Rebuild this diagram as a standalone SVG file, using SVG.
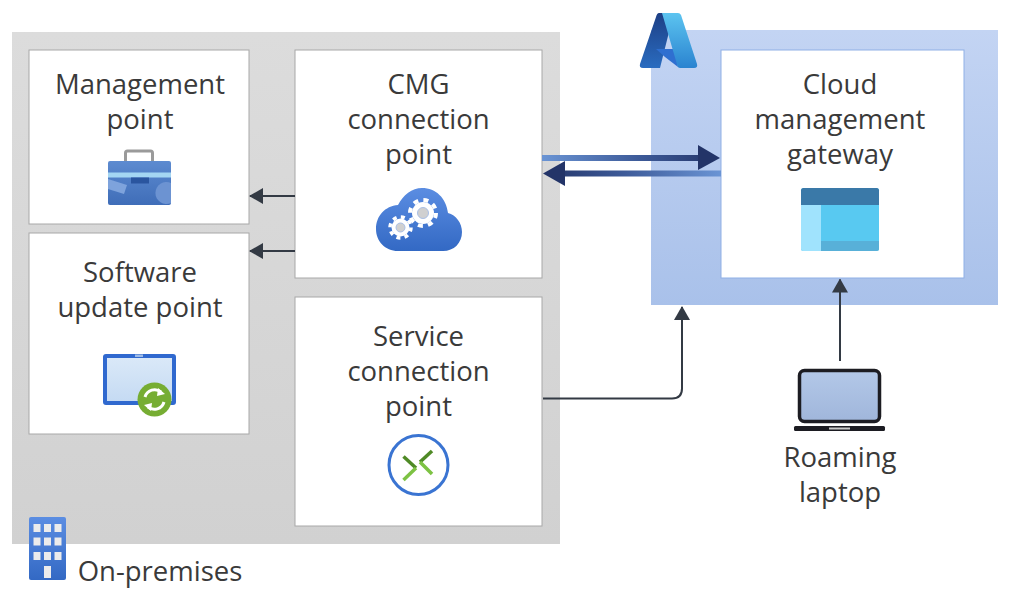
<svg xmlns="http://www.w3.org/2000/svg" width="1024" height="598" viewBox="0 0 1024 598">
<style>
.t{font-family:"Open Sans","Noto Sans","Liberation Sans",sans-serif;font-size:27.5px;fill:#3a3a3a;text-anchor:middle}
.box{fill:#fff;stroke:#a8a8a8;stroke-width:1}
.conn{fill:none;stroke:#333a44;stroke-width:2}
.gear{fill:#fff}
</style>
<defs>
<linearGradient id="gray" x1="0" y1="0" x2="0" y2="1"><stop offset="0" stop-color="#dcdcdc"/><stop offset="1" stop-color="#d1d1d1"/></linearGradient>
<linearGradient id="azbg" x1="0" y1="0" x2="0" y2="1"><stop offset="0" stop-color="#c3d4f3"/><stop offset="1" stop-color="#a9c1ea"/></linearGradient>
<linearGradient id="a1" gradientUnits="userSpaceOnUse" x1="542" y1="0" x2="720" y2="0"><stop offset="0" stop-color="#6a94d4"/><stop offset=".55" stop-color="#3d5a98"/><stop offset="1" stop-color="#233468"/></linearGradient>
<linearGradient id="a2" gradientUnits="userSpaceOnUse" x1="720" y1="0" x2="543" y2="0"><stop offset="0" stop-color="#6a94d4"/><stop offset=".55" stop-color="#3d5a98"/><stop offset="1" stop-color="#233468"/></linearGradient>
<linearGradient id="blue" x1="0" y1="0" x2="0" y2="1"><stop offset="0" stop-color="#5b8de2"/><stop offset="1" stop-color="#3369c4"/></linearGradient>
<linearGradient id="case" x1="0" y1="0" x2="0" y2="1"><stop offset="0" stop-color="#5d8bd0"/><stop offset="1" stop-color="#3f6db8"/></linearGradient>
<linearGradient id="screen" x1="0" y1="0" x2="0" y2="1"><stop offset="0" stop-color="#dbe9f8"/><stop offset="1" stop-color="#c4daf3"/></linearGradient>
<linearGradient id="lapscr" x1="0" y1="0" x2="0" y2="1"><stop offset="0" stop-color="#b3c8e8"/><stop offset="1" stop-color="#a0b6db"/></linearGradient>
<linearGradient id="azd" x1="0" y1="0" x2="0" y2="1"><stop offset="0" stop-color="#1d3f85"/><stop offset="1" stop-color="#2a6cc0"/></linearGradient>
<linearGradient id="azl" x1="0" y1="0" x2="0" y2="1"><stop offset="0" stop-color="#5cc4f0"/><stop offset="1" stop-color="#2a83d0"/></linearGradient>
<marker id="ah" viewBox="0 0 14 16" refX="13" refY="8" markerWidth="14" markerHeight="16" markerUnits="userSpaceOnUse" orient="auto"><path d="M0 0L14 8L0 16Z" fill="#333a44"/></marker>
</defs>

<g id="on-premises">
<rect x="12" y="32" width="548" height="512" fill="url(#gray)"/>
<rect x="29" y="517" width="37" height="63" rx="2" fill="url(#blue)"/>
<g fill="#ececec">
<rect x="33.500" y="524" width="7" height="8"/><rect x="44" y="524" width="7" height="8"/><rect x="54.500" y="524" width="7" height="8"/>
<rect x="33.500" y="537.500" width="7" height="8"/><rect x="44" y="537.500" width="7" height="8"/><rect x="54.500" y="537.500" width="7" height="8"/>
<rect x="33.500" y="552" width="7" height="8"/><rect x="44" y="552" width="7" height="8"/><rect x="54.500" y="552" width="7" height="8"/>
<rect x="44" y="566" width="7" height="12"/>
</g>
<text class="t" x="160" y="581">On-premises</text>
</g>

<g id="azure">
<rect x="651" y="30" width="347" height="275" fill="url(#azbg)"/>
<path d="M659 13H668L670 28L660 68H643Q639 68 640 64L656 17Q657 13 659 13Z" fill="url(#azd)"/>
<path d="M656 49H675L678 67L665 57Z" fill="#2f6fd0"/>
<path d="M662 13H678Q680 13 681 15L697 64Q698 68 694 68H680Q678 68 677.500 66Z" fill="url(#azl)"/>
</g>

<g id="management-point">
<rect class="box" x="29" y="50" width="220" height="174"/>
<text class="t" x="140" y="94">Management</text>
<text class="t" x="140" y="129">point</text>
<rect x="125.500" y="151" width="27" height="14" rx="2" fill="none" stroke="#9a9a9a" stroke-width="3"/>
<rect x="108" y="161" width="63" height="44" rx="2" fill="url(#case)"/>
<path d="M108 186L127 192L124 201L108 196Z" fill="#7ea3dc" transform="translate(0 -7)"/>
<path d="M171 183A11 11 0 1 0 171 203Z" fill="#6c93d2"/>
<rect x="108" y="172.500" width="63" height="5" fill="#a4d6f3"/>
<rect x="131" y="177.500" width="18" height="6" fill="#2a559f"/>
</g>

<g id="software-update-point">
<rect class="box" x="29" y="233" width="220" height="201"/>
<text class="t" x="140" y="282">Software</text>
<text class="t" x="140" y="317">update point</text>
<rect x="105" y="356" width="69" height="47" rx="1" fill="url(#screen)" stroke="#3069cf" stroke-width="4"/>
<rect x="135" y="354.500" width="8" height="2.500" fill="#9dbbe6"/>
<circle cx="154.500" cy="399.500" r="17" fill="#76ad33"/>
<path d="M145 397A10 10 0 0 1 161 392" fill="none" stroke="#fff" stroke-width="3"/>
<path d="M158 388L165 394L157 396Z" fill="#fff"/>
<path d="M164 402A10 10 0 0 1 148 407" fill="none" stroke="#fff" stroke-width="3"/>
<path d="M151 411L144 405L152 403Z" fill="#fff"/>
</g>

<g id="cmg-connection-point">
<rect class="box" x="295" y="50" width="247" height="228"/>
<text class="t" x="418.500" y="94">CMG</text>
<text class="t" x="418.500" y="129">connection</text>
<text class="t" x="418.500" y="164">point</text>
<path d="M398 251C385 251 376 241 376 229C376 216 385 206 398 205C403 195 412 188 422 188C436 188 446 198 448 213C456 215 462 223 462 232C462 243 454 251 443 251Z" fill="url(#blue)"/>
<g>
<circle class="gear" cx="423" cy="213" r="11"/>
<circle cx="423" cy="213" r="13" fill="none" stroke="#fff" stroke-width="4" stroke-dasharray="5 5.210"/>
<circle cx="423" cy="213" r="5.500" fill="#d0d0d0" stroke="#a9bfe6" stroke-width="1"/>
<circle class="gear" cx="400.500" cy="227.500" r="9"/>
<circle cx="400.500" cy="227.500" r="10.500" fill="none" stroke="#fff" stroke-width="3.500" stroke-dasharray="4 4.250"/>
<circle cx="400.500" cy="227.500" r="4.500" fill="#d0d0d0" stroke="#a9bfe6" stroke-width="1"/>
</g>
</g>

<g id="service-connection-point">
<rect class="box" x="295" y="297" width="247" height="229"/>
<text class="t" x="418.500" y="346">Service</text>
<text class="t" x="418.500" y="381">connection</text>
<text class="t" x="418.500" y="416">point</text>
<circle cx="418.500" cy="465" r="29.500" fill="#fff" stroke="#3a74d2" stroke-width="3"/>
<path d="M403.500 456.500L416 468" fill="none" stroke="#4f8a26" stroke-width="3.500"/>
<path d="M416 468L403.500 480" fill="none" stroke="#7dc243" stroke-width="3.500"/>
<path d="M432 451L420 462" fill="none" stroke="#4f8a26" stroke-width="3.500"/>
<path d="M420 462L432 474" fill="none" stroke="#7dc243" stroke-width="3.500"/>
</g>

<g id="cloud-management-gateway">
<rect x="721" y="50" width="243" height="228" fill="#fff" stroke="#8fb0e6" stroke-width="1"/>
<text class="t" x="840" y="94">Cloud</text>
<text class="t" x="840" y="129">management</text>
<text class="t" x="840" y="164">gateway</text>
<rect x="801" y="188" width="78" height="63" rx="2.500" fill="#58c9f1"/>
<path d="M801 205H821V251H803.500Q801 251 801 248.500Z" fill="#a0e3fd"/>
<path d="M821 241H879V248.500Q879 251 876.500 251H821Z" fill="#58b0d8"/>
<path d="M801 205V190.500Q801 188 803.500 188H876.500Q879 188 879 190.500V205Z" fill="#3a79a8"/>
</g>

<g id="roaming-laptop">
<rect x="799.500" y="370.500" width="80" height="51" rx="5" fill="url(#lapscr)" stroke="#1c1c22" stroke-width="3.500"/>
<rect x="794" y="426" width="91" height="5" rx="1.500" fill="#1c1c22"/>
<rect x="829" y="427.500" width="21" height="2" fill="#c8c8c8"/>
<text class="t" x="840" y="467">Roaming</text>
<text class="t" x="840" y="502">laptop</text>
</g>

<g id="connectors">
<path class="conn" d="M295 196H250" marker-end="url(#ah)"/>
<path class="conn" d="M295 251H250" marker-end="url(#ah)"/>
<path class="conn" d="M543 398.500H672Q682 398.500 682 388.500V307" marker-end="url(#ah)"/>
<path class="conn" d="M840 361V279.500" marker-end="url(#ah)"/>
<rect x="542" y="155" width="160" height="6" fill="url(#a1)"/>
<path d="M698 145L720 158L698 170Z" fill="#233468"/>
<rect x="560" y="170.500" width="161" height="6" fill="url(#a2)"/>
<path d="M565 161L543 173.500L565 186Z" fill="#233468"/>
</g>
</svg>
